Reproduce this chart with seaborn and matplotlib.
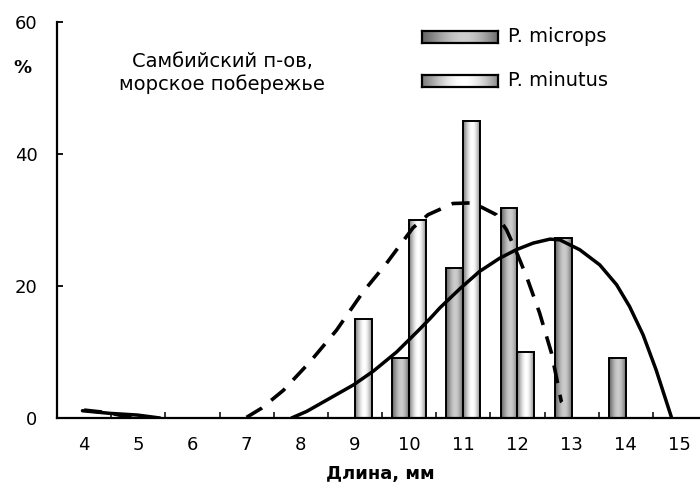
import numpy as np
import pandas as pd
import matplotlib
matplotlib.use("Agg")
import matplotlib.pyplot as plt
import seaborn as sns

# ---------------- data ----------------
lengths = [4, 5, 6, 7, 8, 9, 10, 11, 12, 13, 14, 15]
microps = [0, 0, 0, 0, 0, 0, 9.1, 22.7, 31.8, 27.3, 9.1, 0]
minutus = [0, 0, 0, 0, 0, 15.0, 30.0, 45.0, 10.0, 0, 0, 0]
series_names = ["P. microps", "P. minutus"]

# trend curves (x in mm, y in %), segments separated
microps_trend_seg = [0, 0, 0, 0,
                     1, 1, 1, 1, 1, 1, 1, 1, 1, 1, 1, 1, 1, 1, 1, 1, 1, 1, 1, 1, 1, 1, 1]
microps_trend_x = [3.97, 4.48, 4.98, 5.40,
                   7.83, 8.11, 8.54, 8.97, 9.34, 9.77, 10.14, 10.38, 10.57, 10.94,
                   11.30, 11.67, 11.98, 12.29, 12.60, 12.78, 13.15, 13.52, 13.83,
                   14.07, 14.32, 14.56, 14.84]
microps_trend_y = [1.1, 0.7, 0.45, 0.0,
                   0.0, 1.0, 3.0, 5.0, 7.1, 10.0, 13.0, 15.0, 16.7, 19.6,
                   22.2, 24.2, 25.5, 26.5, 27.1, 27.0, 25.5, 23.2, 20.2,
                   16.9, 12.6, 7.3, 0.2]

minutus_trend_seg = [0, 0, 0,
                     1, 1, 1, 1, 1, 1, 1, 1, 1, 1, 1, 1, 1, 1, 1, 1, 1, 1, 1]
minutus_trend_x = [4.00, 4.45, 4.90,
                   7.00, 7.28, 7.68, 8.17, 8.66, 9.15, 9.58, 10.07, 10.35, 10.81,
                   11.18, 11.61, 11.80, 11.98, 12.17, 12.41, 12.63, 12.81, 12.82]
minutus_trend_y = [1.2, 0.8, 0.0,
                   0.1, 1.5, 4.2, 8.5, 13.3, 19.1, 23.4, 28.8, 30.8, 32.5,
                   32.6, 30.8, 28.5, 25.2, 21.4, 15.9, 9.8, 2.5, 2.4]

y_ticks = [0, 20, 40, 60]
title_text = "Самбийский п-ов,\nморское побережье"
x_label = "Длина, мм"
y_label = "%"

# ---------------- style ----------------
sns.set_style("white")
plt.rcParams["font.family"] = ["DejaVu Sans"]
plt.rcParams["text.color"] = "black"

W, H = 700, 490
fig = plt.figure(figsize=(7, 4.9), dpi=100)
ax = fig.add_axes([57 / W, 1 - 418 / H, 650 / W, 396 / H])

df = pd.DataFrame({
    "length": lengths * 2,
    "value": microps + minutus,
    "species": [series_names[0]] * len(lengths) + [series_names[1]] * len(lengths),
})

sns.barplot(data=df, x="length", y="value", hue="species", native_scale=True,
            width=0.62, dodge=True, palette=["#a0a0a0", "#e0e0e0"],
            edgecolor="black", linewidth=1.4, legend=False, ax=ax,
            errorbar=None)

ax.set_xlim(3.5, 15.5)
ax.set_ylim(0, 60)


def profile(n, dark_l, light, dark_r, peak=0.55):
    t = np.linspace(0, 1, n)
    out = np.empty(n)
    left = t <= peak
    out[left] = dark_l + (light - dark_l) * np.sin(t[left] / peak * np.pi / 2) ** 1.2
    tr = (t[~left] - peak) / (1 - peak)
    out[~left] = light + (dark_r - light) * (1 - np.cos(tr * np.pi / 2)) ** 1.0
    return out


grad_gray = profile(64, 0.40, 0.80, 0.43)
grad_white = profile(64, 0.50, 1.00, 0.55)

n = len(lengths)
for i, p in enumerate(ax.patches):
    h = p.get_height()
    if h <= 0:
        p.set_visible(False)
        continue
    x0, w = p.get_x(), p.get_width()
    g = grad_gray if i < n else grad_white
    img = np.tile(g, (2, 1))
    im = ax.imshow(img, cmap="gray", vmin=0, vmax=1, aspect="auto",
                   extent=(x0, x0 + w, 0, h), zorder=1.5, interpolation="bilinear")
    im.set_clip_path(p)
    p.set_facecolor("none")
    p.set_zorder(2)

ax.set_xlim(3.5, 15.5)
ax.set_ylim(0, 60)

# trend curves
mic = pd.DataFrame({"x": microps_trend_x, "y": microps_trend_y, "seg": microps_trend_seg})
mnt = pd.DataFrame({"x": minutus_trend_x, "y": minutus_trend_y, "seg": minutus_trend_seg})
for s, d in mic.groupby("seg"):
    sns.lineplot(data=d, x="x", y="y", sort=False, estimator=None, color="black",
                 linewidth=2.5, ax=ax, zorder=3)
for s, d in mnt.groupby("seg"):
    sns.lineplot(data=d, x="x", y="y", sort=False, estimator=None, color="black",
                 linewidth=2.6, linestyle=(0, (5, 3.3)), ax=ax, zorder=3)
ax.set_xlim(3.5, 15.5)
ax.set_ylim(0, 60)

# axes styling
for side in ["top", "right"]:
    ax.spines[side].set_visible(False)
for side in ["left", "bottom"]:
    ax.spines[side].set_color("black")
    ax.spines[side].set_linewidth(1.6)

ax.set_yticks(y_ticks)
ax.set_yticklabels([str(v) for v in y_ticks])
ax.tick_params(axis="y", direction="in", length=4, width=1.3, pad=14,
               labelsize=13, colors="black", left=True)

ax.set_xticks([v + 0.5 for v in lengths[:-1]])
ax.set_xticklabels([])
ax.set_xticks(lengths, minor=True)
ax.set_xticklabels([str(v) for v in lengths], minor=True)
ax.tick_params(axis="x", which="major", direction="in", length=4, width=1.3,
               bottom=True)
ax.tick_params(axis="x", which="minor", length=0, pad=13, labelsize=13,
               colors="black")
ax.set_xlabel("")
ax.set_ylabel("")
ax.grid(False)

fig.text(380 / W, 1 - 474 / H, x_label, ha="center", va="center",
         fontsize=13, fontweight="bold", color="black")
fig.text(22 / W, 1 - 68 / H, y_label, ha="center", va="center",
         fontsize=13, fontweight="bold", color="black")
fig.text(222 / W, 1 - 73 / H, title_text, ha="center", va="center",
         fontsize=14, linespacing=1.25, color="black")

# legend (drawn as small gradient swatches + text)
leg_items = [(series_names[0], grad_gray, 37), (series_names[1], grad_white, 81)]
for name, g, yc in leg_items:
    lax = fig.add_axes([422 / W, 1 - (yc + 6) / H, 76 / W, 12 / H])
    lax.imshow(np.tile(g, (2, 1)), cmap="gray", vmin=0, vmax=1, aspect="auto",
               interpolation="bilinear")
    lax.set_xticks([])
    lax.set_yticks([])
    for sp in lax.spines.values():
        sp.set_visible(True)
        sp.set_color("black")
        sp.set_linewidth(1.6)
    fig.text(508 / W, 1 - yc / H, name, ha="left", va="center", fontsize=14,
             color="black")

fig.savefig("out.png", dpi=100)
